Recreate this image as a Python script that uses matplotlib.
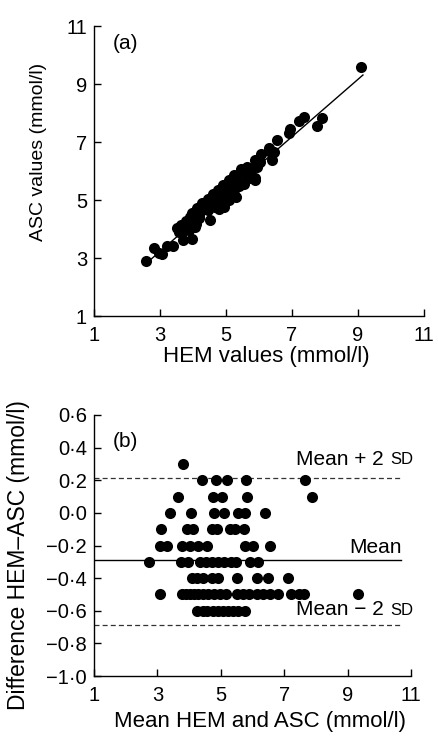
import numpy as np
import matplotlib
matplotlib.use('Agg')
import matplotlib.pyplot as plt

plt.rcParams['font.family'] = ['Liberation Sans', 'DejaVu Sans']

# (a) HEM vs ASC values (mmol/l)
hem = [3.97,
       4.50, 4.95, 5.30, 5.89, 7.76,
       3.71, 4.79, 5.09, 5.87, 7.92,
       3.40, 4.06, 4.79, 5.11, 5.55, 5.76, 6.39,
       3.05, 3.87, 4.08, 4.66, 4.83, 5.24, 5.40, 5.68,
       2.98, 3.21, 3.67, 3.93, 4.19, 4.46, 5.66, 5.93, 6.45,
       2.59, 3.59, 3.82, 4.19, 4.38, 4.57, 4.76, 4.95, 5.17, 5.33, 5.77, 6.02,
       3.88, 4.06, 4.25, 4.51, 4.72, 5.30, 5.93, 6.30, 6.91,
       2.83, 3.52, 3.65, 3.78, 3.92, 4.04, 4.20, 4.36, 4.54, 4.72, 4.91,
       5.25, 5.44, 5.65, 5.88, 6.07, 6.30, 6.56, 6.95, 7.22, 7.37, 9.09,
       3.96, 4.13, 4.28, 4.44, 4.60, 4.76, 4.92, 5.08, 5.25, 5.46]
asc = [3.67,
       4.30, 4.75, 5.10, 5.69, 7.56,
       3.61, 4.69, 4.99, 5.77, 7.82,
       3.40, 4.06, 4.79, 5.11, 5.55, 5.76, 6.39,
       3.15, 3.97, 4.18, 4.76, 4.93, 5.34, 5.50, 5.78,
       3.18, 3.41, 3.87, 4.13, 4.39, 4.66, 5.86, 6.13, 6.65,
       2.89, 3.89, 4.12, 4.49, 4.68, 4.87, 5.06, 5.25, 5.47, 5.63, 6.07, 6.32,
       4.28, 4.46, 4.65, 4.91, 5.12, 5.70, 6.33, 6.70, 7.31,
       3.33, 4.02, 4.15, 4.28, 4.42, 4.54, 4.70, 4.86, 5.04, 5.22, 5.41,
       5.75, 5.94, 6.15, 6.38, 6.57, 6.80, 7.06, 7.45, 7.72, 7.87, 9.59,
       4.56, 4.73, 4.88, 5.04, 5.20, 5.36, 5.52, 5.68, 5.85, 6.06]
fit_x = [2.70, 9.15]
fit_y = [2.93, 9.31]

# (b) Bland-Altman: mean vs difference
mean_vals = [3.82,
             4.40, 4.85, 5.20, 5.79, 7.66,
             3.66, 4.74, 5.04, 5.82, 7.87,
             3.40, 4.06, 4.79, 5.11, 5.55, 5.76, 6.39,
             3.10, 3.92, 4.13, 4.71, 4.88, 5.29, 5.45, 5.73,
             3.08, 3.31, 3.77, 4.03, 4.29, 4.56, 5.76, 6.03, 6.55,
             2.74, 3.74, 3.97, 4.34, 4.53, 4.72, 4.91, 5.10, 5.32, 5.48, 5.92, 6.17,
             4.08, 4.26, 4.45, 4.71, 4.92, 5.50, 6.13, 6.50, 7.11,
             3.08, 3.77, 3.90, 4.03, 4.17, 4.29, 4.45, 4.61, 4.79, 4.97, 5.16,
             5.50, 5.69, 5.90, 6.13, 6.32, 6.55, 6.81, 7.20, 7.47, 7.62, 9.34,
             4.26, 4.43, 4.58, 4.74, 4.90, 5.06, 5.22, 5.38, 5.55, 5.76]
diff_vals = [0.3] * 1 + [0.2] * 5 + [0.1] * 5 + [0.0] * 7 + [-0.1] * 8 + \
            [-0.2] * 9 + [-0.3] * 12 + [-0.4] * 9 + [-0.5] * 22 + [-0.6] * 10
mean_diff = -0.29
upper_lim = 0.215
lower_lim = -0.69

xticks = [1, 3, 5, 7, 9, 11]
yticks_a = [1, 3, 5, 7, 9, 11]
yticks_b = [0.6, 0.4, 0.2, 0.0, -0.2, -0.4, -0.6, -0.8, -1.0]
yticklabels_b = ['0\u00b76', '0\u00b74', '0\u00b72', '0\u00b70', '\u22120\u00b72',
                 '\u22120\u00b74', '\u22120\u00b76', '\u22120\u00b78', '\u22121\u00b70']

fs = 15
fig = plt.figure(figsize=(4.38, 7.38), dpi=100)

def style(ax):
    ax.spines['top'].set_visible(False)
    ax.spines['right'].set_visible(False)
    for s in ['left', 'bottom']:
        ax.spines[s].set_linewidth(1.0)
    ax.tick_params(direction='in', length=5, width=1.0, labelsize=14.5)
    ax.tick_params(axis='x', pad=7)
    ax.tick_params(axis='y', pad=5)

# panel (a)
ax1 = fig.add_axes([94/438, 1-316/738, 330/438, 290/738])
ax1.plot(fit_x, fit_y, color='black', lw=1.0)
ax1.plot(hem, asc, 'o', color='black', ms=8, mew=0)
ax1.set_xlim(1, 11)
ax1.set_ylim(1, 11)
ax1.set_xticks(xticks)
ax1.set_yticks(yticks_a)
style(ax1)
ax1.set_xlabel('HEM values (mmol/l)', fontsize=16)
ax1.xaxis.set_label_coords(0.523, -0.105)
ax1.set_ylabel('ASC values (mmol/l)', fontsize=14)
ax1.yaxis.set_label_coords(-0.142, 0.566)
ax1.text(1.58, 10.4, '(a)', fontsize=fs, va='center')

# panel (b)
ax2 = fig.add_axes([94/438, 1-676/738, 317/438, 261/738])
ax2.plot([1, 10.7], [mean_diff, mean_diff], color='black', lw=1.0)
ax2.plot([1, 10.7], [upper_lim, upper_lim], color='#333333', lw=0.9, dashes=(4, 2.5))
ax2.plot([1, 10.7], [lower_lim, lower_lim], color='#333333', lw=0.9, dashes=(4, 2.5))
ax2.plot(mean_vals, diff_vals, 'o', color='black', ms=8, mew=0)
ax2.set_xlim(1, 11)
ax2.set_ylim(-1.0, 0.6)
ax2.set_xticks(xticks)
ax2.set_yticks(yticks_b)
ax2.set_yticklabels(yticklabels_b)
style(ax2)
ax2.set_xlabel('Mean HEM and ASC (mmol/l)', fontsize=16)
ax2.xaxis.set_label_coords(0.524, -0.135)
ax2.set_ylabel('Difference HEM\u2013ASC (mmol/l)', fontsize=16.5)
ax2.yaxis.set_label_coords(-0.202, 0.464)
ax2.text(1.58, 0.44, '(b)', fontsize=fs, va='center')

ax2.text(10.15, 0.33, 'Mean + 2', fontsize=fs, va='center', ha='right')
ax2.text(10.35, 0.325, 'SD', fontsize=12, va='center', ha='left')
ax2.text(10.72, -0.21, 'Mean', fontsize=fs, va='center', ha='right')
ax2.text(10.15, -0.595, 'Mean \u2212 2', fontsize=fs, va='center', ha='right')
ax2.text(10.35, -0.6, 'SD', fontsize=12, va='center', ha='left')

plt.savefig('out.png', dpi=100)
